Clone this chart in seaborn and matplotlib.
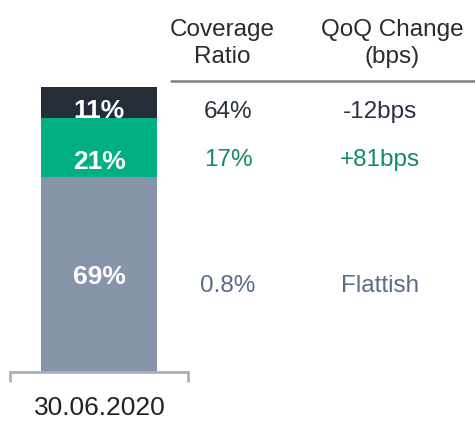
import numpy as np
import pandas as pd
import matplotlib
matplotlib.use("Agg")
import matplotlib.pyplot as plt
import seaborn as sns

# data
period = "30.06.2020"
shares = [69, 21, 11]                  # bottom -> top
share_labels = ["69%", "21%", "11%"]
coverage = ["0.8%", "17%", "64%"]
qoq_change = ["Flattish", "+81bps", "-12bps"]
headers = ["Coverage\nRatio", "QoQ Change\n(bps)"]

bar_colors = ["#8795ab", "#00b082", "#252d38"]
text_colors = ["#5a6d87", "#168a62", "#2a3240"]

sns.set_style("white")
plt.rcParams["font.family"] = ["Liberation Sans", "DejaVu Sans"]

W, H = 475, 423
fig = plt.figure(figsize=(W / 100, H / 100), dpi=100)

def fx(px):
    return px / W

def fy(py):
    return 1 - py / H

# bar axes: bracket spans 10..188 px, bar from 372 (bottom) to 87 (top)
ax = fig.add_axes([fx(10), fy(372), fx(188) - fx(10), fy(87) - fy(372)])

# stacked bar: draw cumulative totals from the tallest down
cum = np.cumsum(shares)
for i in reversed(range(len(shares))):
    df = pd.DataFrame({"period": [period], "value": [cum[i]]})
    sns.barplot(data=df, x="period", y="value", color=bar_colors[i],
                width=0.652, saturation=1, linewidth=0, ax=ax, zorder=2)

ax.set_xlim(-0.5, 0.5)
ax.set_ylim(0, cum[-1])
ax.set_xlabel("")
ax.set_ylabel("")
ax.set_xticks([])
ax.set_yticks([])
for side in ["top", "right", "left"]:
    ax.spines[side].set_visible(False)
ax.spines["bottom"].set_color("#a9b1b9")
ax.spines["bottom"].set_linewidth(2)
for xe in [0, 1]:
    ax.plot([xe, xe], [0, -0.035], transform=ax.transAxes, color="#a9b1b9",
            lw=2, clip_on=False, solid_capstyle="butt")

# labels inside the bar
mids = cum - np.array(shares) / 2
label_shift = [-2, -10, -6]            # points, downward nudges
for m, lab, dy in zip(mids, share_labels, label_shift):
    ax.annotate(lab, (0, m), xytext=(0, dy), textcoords="offset points",
                ha="center", va="center", color="white", fontsize=19,
                fontweight="bold")

fig.text(fx(100), fy(408), period, ha="center", va="center",
         fontsize=19, color="#222222")

# table to the right
col_x = [fx(228), fx(380)]
head_x = [fx(222), fx(392)]
for hx, htxt in zip(head_x, headers):
    fig.text(hx, fy(43.5), htxt, ha="center", va="center", fontsize=17.5,
             color="#2b2b2b", linespacing=1.35)
fig.add_artist(plt.Line2D([fx(171), 1], [fy(81.5), fy(81.5)],
                          color="#7f7f7f", lw=1.8))

row_shift = [-8, -9, -7]
for m, cov, chg, col, dy in zip(mids, coverage, qoq_change, text_colors, row_shift):
    for cx, txt in zip(col_x, [cov, chg]):
        ax.annotate(txt, (cx, m), xycoords=(fig.transFigure, ax.transData),
                    xytext=(0, dy), textcoords="offset points",
                    ha="center", va="center", fontsize=17.5, color=col,
                    annotation_clip=False)

fig.savefig("out.png", dpi=100)
